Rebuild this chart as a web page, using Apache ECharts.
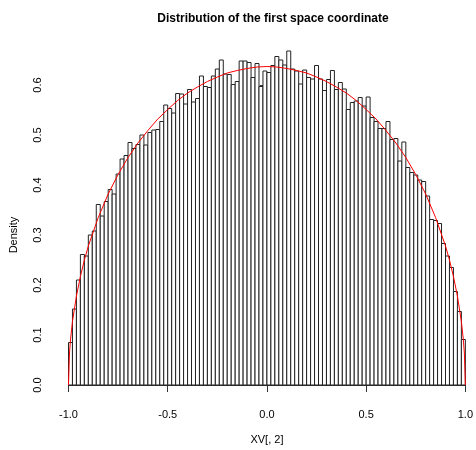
<!DOCTYPE html>
<html>
<head>
<meta charset="utf-8">
<script src="https://cdn.jsdelivr.net/npm/echarts@6/dist/echarts.min.js"></script>
<style>
html,body{margin:0;padding:0;background:#fff;}
#chart{width:476px;height:450px;}
</style>
</head>
<body>
<div id="chart"></div>
<script>
// Histogram: breaks from -1 to 1 with width 0.02
const breakStart = -1.0;
const binWidth = 0.02;
const density = [
  0.085, 0.152, 0.210, 0.261, 0.258, 0.300, 0.308, 0.361, 0.338, 0.367,
  0.391, 0.382, 0.422, 0.452, 0.459, 0.485, 0.473, 0.481, 0.500, 0.480,
  0.505, 0.510, 0.511, 0.527, 0.560, 0.553, 0.544, 0.583, 0.582, 0.562,
  0.591, 0.566, 0.573, 0.618, 0.597, 0.595, 0.618, 0.632, 0.650, 0.622,
  0.621, 0.601, 0.607, 0.648, 0.648, 0.645, 0.615, 0.643, 0.597, 0.628,
  0.625, 0.639, 0.657, 0.650, 0.640, 0.668, 0.632, 0.628, 0.602, 0.630,
  0.615, 0.612, 0.639, 0.612, 0.589, 0.611, 0.629, 0.591, 0.605, 0.592,
  0.551, 0.565, 0.568, 0.575, 0.558, 0.576, 0.535, 0.527, 0.513, 0.513,
  0.527, 0.491, 0.493, 0.448, 0.486, 0.435, 0.425, 0.420, 0.410, 0.407,
  0.378, 0.331, 0.329, 0.323, 0.283, 0.258, 0.235, 0.187, 0.147, 0.091
];
// Red density curve
const curveX = [-1, -0.995, -0.99, -0.98, -0.96, -0.94, -0.92, -0.9, -0.85, -0.8, -0.75, -0.7, -0.65, -0.6, -0.55, -0.5, -0.45, -0.4, -0.35, -0.3, -0.25, -0.2, -0.15, -0.1, -0.05,
  0, 0.05, 0.1, 0.15, 0.2, 0.25, 0.3, 0.35, 0.4, 0.45, 0.5, 0.55, 0.6, 0.65, 0.7, 0.75, 0.8, 0.85, 0.9, 0.92, 0.94, 0.96, 0.98, 0.99, 0.995, 1];
const curveY = [0, 0.064, 0.090, 0.127, 0.178, 0.217, 0.250, 0.278, 0.335, 0.382, 0.421, 0.455, 0.484, 0.509, 0.532, 0.551, 0.569, 0.584, 0.596, 0.607, 0.616, 0.624, 0.629, 0.633, 0.636,
  0.637, 0.636, 0.633, 0.629, 0.624, 0.616, 0.607, 0.596, 0.584, 0.569, 0.551, 0.532, 0.509, 0.484, 0.455, 0.421, 0.382, 0.335, 0.278, 0.250, 0.217, 0.178, 0.127, 0.090, 0.064, 0];
const xTicks = [-1.0, -0.5, 0.0, 0.5, 1.0];
const yTicks = [0.0, 0.1, 0.2, 0.3, 0.4, 0.5, 0.6];

const titleText = 'Distribution of the first space coordinate';
const xName = 'XV[, 2]';
const yName = 'Density';

const barData = density.map((h, i) => [breakStart + i * binWidth, breakStart + (i + 1) * binWidth, h]);
const curveData = curveX.map((x, i) => [x, curveY[i]]);

const FONT = 'Liberation Sans, Arial, Helvetica, sans-serif';
const chart = echarts.init(document.getElementById('chart'), null, {renderer: 'canvas'});
chart.setOption({
  animation: false,
  backgroundColor: '#ffffff',
  textStyle: {fontFamily: FONT},
  title: {
    text: titleText,
    left: 268, top: 8,
    textAlign: 'center',
    textStyle: {fontFamily: FONT, fontSize: 12, fontWeight: 'bold', color: '#000'}
  },
  grid: {left: 67.3, right: 7.7, top: 85, bottom: 65, containLabel: false},
  xAxis: {
    type: 'value', min: xTicks[0], max: xTicks[xTicks.length - 1], interval: 0.5,
    offset: 14,
    axisLine: {show: true, lineStyle: {color: '#333', width: 1}},
    axisTick: {show: true, length: 7, lineStyle: {color: '#333', width: 1}},
    axisLabel: {margin: 10, fontSize: 11, color: '#000', fontFamily: FONT, formatter: v => v.toFixed(1)},
    splitLine: {show: false},
    name: xName, nameLocation: 'middle', nameGap: 35,
    nameTextStyle: {fontSize: 11, color: '#000', fontFamily: FONT}
  },
  yAxis: {
    type: 'value', min: yTicks[0], max: yTicks[yTicks.length - 1], interval: 0.1,
    offset: 15.5,
    axisLine: {show: true, lineStyle: {color: '#333', width: 1}},
    axisTick: {show: true, length: 7, lineStyle: {color: '#333', width: 1}},
    axisLabel: {margin: 10, rotate: 90, fontSize: 11, color: '#000', fontFamily: FONT, formatter: v => v.toFixed(1)},
    splitLine: {show: false},
    name: yName, nameLocation: 'middle', nameGap: 34, nameRotate: 90,
    nameTextStyle: {fontSize: 11, color: '#000', fontFamily: FONT}
  },
  series: [
    {
      type: 'custom',
      clip: false,
      data: barData,
      encode: {x: [0, 1], y: 2},
      renderItem: function (params, api) {
        const p0 = api.coord([api.value(0), api.value(2)]);
        const p1 = api.coord([api.value(1), 0]);
        return {
          type: 'rect',
          shape: {x: p0[0], y: p0[1], width: p1[0] - p0[0], height: p1[1] - p0[1]},
          style: {fill: '#ffffff', stroke: '#222', lineWidth: 1}
        };
      },
      z: 2
    },
    {
      type: 'line',
      data: curveData,
      clip: false,
      showSymbol: false,
      smooth: false,
      lineStyle: {color: '#ff0000', width: 1},
      z: 3
    }
  ]
});
</script>
</body>
</html>
